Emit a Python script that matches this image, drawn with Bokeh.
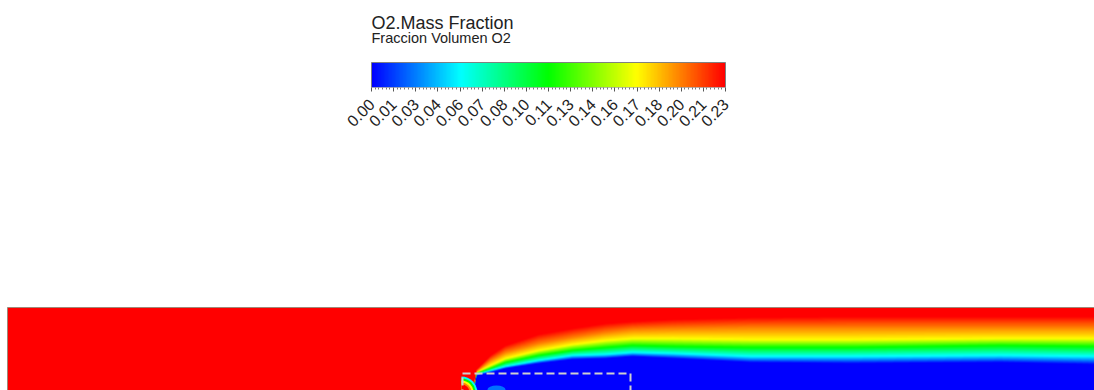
import math
import numpy as np
from bokeh.plotting import figure
from bokeh.models import Range1d, LinearColorMapper, FixedTicker, ColumnDataSource
from bokeh.core.properties import value
from bokeh.layouts import column
from bokeh.embed import file_html
from bokeh.resources import INLINE

# ---------------- data ----------------
title_main = "O2.Mass Fraction"
title_sub = "Fraccion Volumen O2"

c_max = 0.2264
tick_values = [0.0000, 0.0141, 0.0283, 0.0424, 0.0566, 0.0707, 0.0849, 0.0990, 0.1132,
               0.1273, 0.1415, 0.1556, 0.1698, 0.1839, 0.1981, 0.2122, 0.2264]
tick_labels = ["0.00", "0.01", "0.03", "0.04", "0.06", "0.07", "0.08", "0.10", "0.11",
               "0.13", "0.14", "0.16", "0.17", "0.18", "0.20", "0.21", "0.23"]

# iso-level depths (below top wall) at stations along the channel
level_values = [0.226, 0.198, 0.170, 0.113, 0.056, 0.000]
station_x    = [7,   466, 476, 490, 505, 538, 572, 605, 632, 673, 750, 850, 1000, 1094]
depth_red    = [120, 120, 62,  48,  38,  27,  21,  16,  14,  12,  10,  9,   9,    9]
depth_orange = [121, 121, 64,  53,  45,  36,  30,  25,  22,  21,  20,  20,  20,   20]
depth_yellow = [122, 122, 65,  58,  51,  43,  37,  33,  31,  31,  32,  32,  31,   31]
depth_green  = [123, 123, 66,  61,  55,  48,  43,  40,  38,  39,  40,  40,  38,   39]
depth_cyan   = [124, 124, 67,  63,  59,  53,  48,  47,  45,  46,  49,  49,  48,   49]
depth_blue   = [125, 125, 68,  65,  61,  56,  52,  51,  49,  51,  55,  56,  55,   57]

# domain & block geometry
domain_x0, domain_x1, domain_depth = 7, 1094, 90
block_x0, block_x1, block_top = 462, 630, 66

# leading-edge recirculation arc inside the block
arc_cx, arc_cy = 461, -85
arc_radius = [16, 14, 12, 10, 8]
arc_value = [0.056, 0.113, 0.170, 0.198, 0.226]

# small cyan spot in the block
spot_x, spot_y, spot_w, spot_h, spot_value = [496], [-82], [18], [8], [0.05]

# ---------------- colour map (rainbow / jet) ----------------
stops = [(0, 0, 255), (0, 255, 255), (0, 255, 0), (255, 255, 0), (255, 0, 0)]
def jet(n=256):
    pal = []
    for i in range(n):
        t = i / (n - 1) * 4
        k = min(int(t), 3)
        f = t - k
        a, b = stops[k], stops[k + 1]
        r, g, bl = [int(round(a[j] + (b[j] - a[j]) * f)) for j in range(3)]
        pal.append("#%02x%02x%02x" % (r, g, bl))
    return pal

palette = jet()
mapper = LinearColorMapper(palette=palette, low=0.0, high=c_max)

FONT = "Liberation Sans"
W = 1094
H_TOP, H_BOT = 300, 90

# ---------------- colour bar figure (frame = full width) ----------------
bar_left, bar_width = 371, 354          # px from the figure's left edge
bar_height, head_height = 25, 62        # px
s = c_max / bar_width
frame_h = bar_height + head_height
pa = figure(width=W, height=H_TOP,
            x_range=Range1d(-bar_left * s, (W - bar_left) * s),
            y_range=Range1d(0, frame_h),
            output_backend="svg", toolbar_location=None, y_axis_location=None,
            min_border_left=0, min_border_right=0, min_border_top=0,
            min_border_bottom=H_TOP - frame_h)
pa.grid.visible = False
pa.outline_line_color = None
pa.background_fill_color = "white"
pa.border_fill_color = "white"
bar = np.linspace(0, c_max, bar_width).reshape(1, -1)
pa.image(image=[bar], x=0, y=0, dw=c_max, dh=bar_height, color_mapper=mapper)
pa.rect(x=c_max / 2, y=bar_height / 2, width=c_max, height=bar_height,
        fill_color=None, line_color="#808080", line_width=1)

pa.text(x=[0], y=[frame_h - 22.5], text=[title_main], text_font=value(FONT),
        text_font_size="18px", text_color="#222222", text_baseline="alphabetic", text_align="left")
pa.text(x=[0], y=[frame_h - 37.5], text=[title_sub], text_font=value(FONT),
        text_font_size="14.5px", text_color="#222222", text_baseline="alphabetic", text_align="left")

minor = []
for a, b in zip(tick_values[:-1], tick_values[1:]):
    minor.extend(list(np.linspace(a, b, 7)[1:-1]))
ax = pa.xaxis[0]
ax.ticker = FixedTicker(ticks=tick_values, minor_ticks=minor)
ax.major_label_overrides = {v: s_ for v, s_ in zip(tick_values, tick_labels)}
ax.major_label_orientation = math.pi / 4
ax.axis_line_color = None
ax.major_tick_in = 0
ax.major_tick_out = 4
ax.minor_tick_in = 0
ax.minor_tick_out = 2
ax.major_tick_line_color = "#555555"
ax.minor_tick_line_color = "#777777"
ax.major_label_text_font = FONT
ax.major_label_text_font_size = "16px"
ax.major_label_text_color = "#222222"
ax.major_label_standoff = 10

# ---------------- domain figure ----------------
pb = figure(width=W, height=H_BOT, x_range=Range1d(0, W), y_range=Range1d(-83, 7),
            output_backend="svg", toolbar_location=None, x_axis_location=None,
            y_axis_location=None, min_border=0)
pb.grid.visible = False
pb.outline_line_color = None
pb.background_fill_color = "white"
pb.border_fill_color = "white"

depth_table = np.array([depth_red, depth_orange, depth_yellow, depth_green, depth_cyan, depth_blue], dtype=float)
cols = np.arange(domain_x0, domain_x1) + 0.5
rows_depth = domain_depth - (np.arange(domain_depth) + 0.5)
field = np.zeros((domain_depth, cols.size))
for j, xc in enumerate(cols):
    d = np.array([np.interp(xc, station_x, depth_table[k]) for k in range(len(level_values))])
    field[:, j] = np.interp(rows_depth, d, level_values)
pb.image(image=[field], x=domain_x0, y=-domain_depth, dw=domain_x1 - domain_x0,
         dh=domain_depth, color_mapper=mapper)

arc_src = ColumnDataSource(dict(r=arc_radius, v=arc_value))
pb.wedge(x=arc_cx, y=arc_cy, radius="r", start_angle=-math.pi / 2, end_angle=math.pi / 2,
         source=arc_src, fill_color={"field": "v", "transform": mapper}, line_color=None)
spot_src = ColumnDataSource(dict(x=spot_x, y=spot_y, w=spot_w, h=spot_h, v=spot_value))
pb.ellipse(x="x", y="y", width="w", height="h", source=spot_src,
           fill_color={"field": "v", "transform": mapper}, line_color=None, fill_alpha=0.5)

pb.line(x=[domain_x0, domain_x0, domain_x1], y=[-domain_depth, 0, 0], line_color="#a08878", line_width=1)
pb.line(x=[block_x0, block_x0, block_x1, block_x1],
        y=[-domain_depth, -block_top, -block_top, -domain_depth],
        line_color="#cfcfcf", line_width=2, line_dash="8 4")

layout = column(pa, pb, spacing=0)
open("out.html", "w").write(file_html(layout, INLINE))
